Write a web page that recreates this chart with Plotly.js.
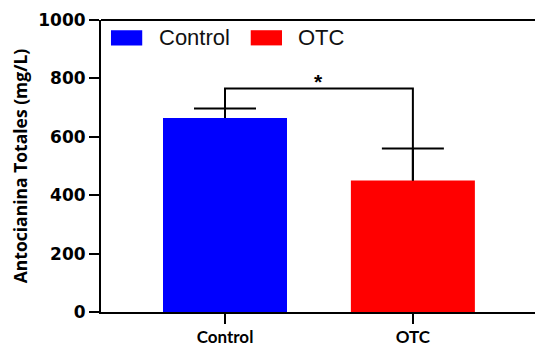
<!DOCTYPE html>
<html>
<head>
<meta charset="utf-8">
<script src="https://cdn.plot.ly/plotly-3.0.1.min.js"></script>
<style>html,body{margin:0;padding:0;background:#fff;}#chart{width:535px;height:349px;}</style>
</head>
<body>
<div id="chart"></div>
<script>
const categories = ["Control", "OTC"];
const means = [664, 450];
const errors = [33, 110];
const colors = ["#0000ff", "#ff0000"];
const yTicks = [0, 200, 400, 600, 800, 1000];
const bracketY = 765;
const starLabel = "*";

// carrier traces: transparent bars holding the error bars (drawn first, so the
// visible bars cover the lower half and show only the upper whisker)
const carriers = categories.map((c, i) => ({
  type: "bar",
  x: [c],
  y: [means[i]],
  name: c + " err",
  marker: {color: "rgba(0,0,0,0)", line: {width: 0}},
  width: 0.66,
  error_y: {type: "data", array: [errors[i]], symmetric: true,
            color: "#000", thickness: 2, width: 31},
  showlegend: false,
  hoverinfo: "skip"
}));
const bars = categories.map((c, i) => ({
  type: "bar",
  x: [c],
  y: [means[i]],
  name: c,
  marker: {color: colors[i], line: {width: 0}},
  width: 0.66,
  showlegend: false,
  hoverinfo: "skip"
}));

const shapes = [
  {type: "path", xref: "x", yref: "y",
   path: `M 0 ${means[0] + errors[0]} L 0 ${bracketY} L 1 ${bracketY} L 1 ${means[1]}`,
   line: {color: "#000", width: 2}},
  {type: "line", xref: "paper", yref: "paper", x0: 0, x1: 1, y0: 1, y1: 1,
   line: {color: "#000", width: 2}}
];
const annotations = [
  {xref: "x", yref: "y", x: 0.5, y: bracketY + 25, text: starLabel, showarrow: false,
   font: {family: "Liberation Sans", size: 21, color: "#000", weight: "bold"}, yanchor: "middle"}
];
// manual legend with wide swatches
const legX = [0.023, 0.345];
categories.forEach((c, i) => {
  shapes.push({type: "rect", xref: "paper", yref: "paper",
    x0: legX[i], x1: legX[i] + 0.072, y0: 0.913, y1: 0.965,
    fillcolor: colors[i], line: {width: 0}});
  annotations.push({xref: "paper", yref: "paper", x: legX[i] + 0.105, y: 0.94,
    xanchor: "left", yanchor: "middle", text: c, showarrow: false,
    font: {family: "Liberation Sans", size: 22, color: "#111"}});
});

const layout = {
  width: 535, height: 349,
  margin: {l: 101, r: 0, t: 20, b: 37},
  paper_bgcolor: "#fff", plot_bgcolor: "#fff",
  barmode: "overlay",
  showlegend: false,
  xaxis: {
    type: "category", range: [-0.66, 1.65],
    showline: true, linecolor: "#000", linewidth: 2,
    ticks: "outside", ticklen: 10, tickwidth: 2, tickcolor: "#000",
    tickfont: {family: "Lato", size: 17, color: "#000", weight: "bold"},
    ticklabelstandoff: -1,
    showgrid: false, zeroline: false
  },
  yaxis: {
    range: [0, 1000], tickvals: yTicks, ticktext: yTicks.map(String),
    showline: true, linecolor: "#000", linewidth: 2,
    ticks: "outside", ticklen: 10, tickwidth: 2, tickcolor: "#000",
    tickfont: {family: "DejaVu Sans", size: 17, color: "#000", weight: "bold"},
    showgrid: false, zeroline: false,
    title: {text: "Antocianina Totales (mg/L)", standoff: 6,
            font: {family: "Open Sans", size: 17.5, color: "#000", weight: "bold"}}
  },
  shapes: shapes,
  annotations: annotations
};

Plotly.newPlot("chart", carriers.concat(bars), layout, {displayModeBar: false, staticPlot: true});
</script>
</body>
</html>
